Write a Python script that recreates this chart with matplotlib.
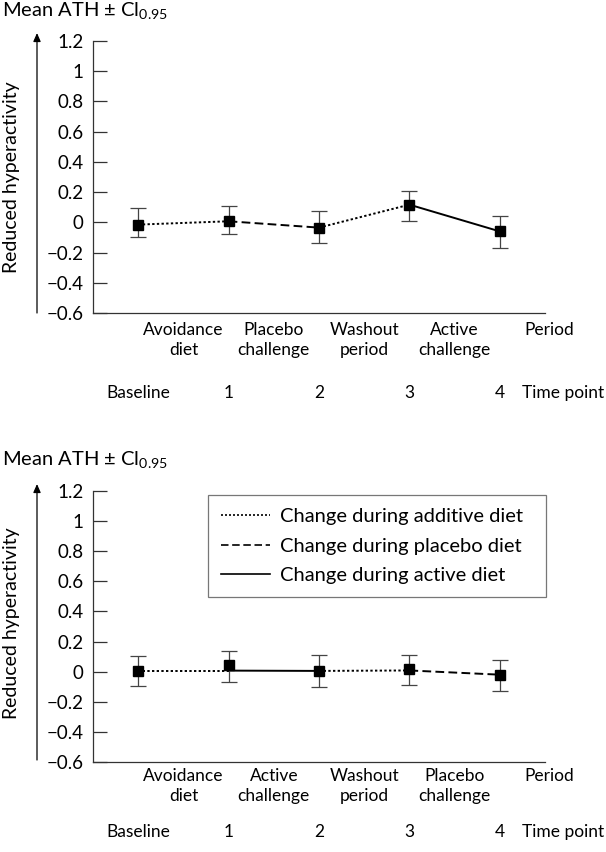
import matplotlib
matplotlib.use("Agg")
import matplotlib.pyplot as plt
from matplotlib.lines import Line2D

plt.rcParams['font.family'] = ['Lato', 'DejaVu Sans']
plt.rcParams['mathtext.fontset'] = 'custom'
plt.rcParams['mathtext.rm'] = 'Lato'
plt.rcParams['axes.unicode_minus'] = True

# ---- data ----
time_points = ["Baseline", "1", "2", "3", "4"]
top_periods = ["Avoidance\ndiet", "Placebo\nchallenge", "Washout\nperiod", "Active\nchallenge"]
bottom_periods = ["Avoidance\ndiet", "Active\nchallenge", "Washout\nperiod", "Placebo\nchallenge"]

top_mean = [-0.015, 0.007, -0.035, 0.117, -0.06]
top_ci_low = [-0.10, -0.08, -0.135, 0.01, -0.17]
top_ci_high = [0.095, 0.11, 0.073, 0.21, 0.04]
top_segments = ["additive", "placebo", "additive", "active"]
top_line = [-0.015, 0.007, -0.035, 0.117, -0.06]

bot_mean = [0.007, 0.043, 0.005, 0.015, -0.02]
bot_ci_low = [-0.096, -0.067, -0.103, -0.089, -0.127]
bot_ci_high = [0.107, 0.139, 0.112, 0.109, 0.08]
bot_segments = ["additive", "active", "additive", "placebo"]
bot_line = [0.007, 0.007, 0.005, 0.008, -0.02]

legend_labels = ["Change during additive diet", "Change during placebo diet", "Change during active diet"]
yticks = [-0.6, -0.4, -0.2, 0, 0.2, 0.4, 0.6, 0.8, 1, 1.2]

styles = {"additive": (0, (1.2, 1.2)), "placebo": (0, (4.5, 2.2)), "active": "solid"}

W, H = 606, 852
fig = plt.figure(figsize=(W / 100, H / 100), dpi=100)

FS = 12.5
TFS = 13.5


def draw_panel(ax_rect, mean, lo, hi, line_vals, segs, periods, title_y, arrow_top, arrow_bot,
               ylab_y, period_y, time_y, legend=False):
    ax = fig.add_axes(ax_rect)
    x = list(range(len(mean)))
    for i, s in enumerate(segs):
        ax.plot(x[i:i + 2], line_vals[i:i + 2], color='black', lw=1.4, linestyle=styles[s],
                solid_capstyle='butt', dash_capstyle='butt', zorder=2)
    yerr = [[m - l for m, l in zip(mean, lo)], [h - m for m, h in zip(mean, hi)]]
    ax.errorbar(x, mean, yerr=yerr, fmt='none', ecolor='#444444', elinewidth=0.9,
                capsize=6, capthick=0.9, zorder=3)
    ax.plot(x, mean, 's', color='black', ms=7.3, zorder=4, linestyle='none')
    ax.set_xlim(-0.5, 4.5)
    ax.set_ylim(-0.6, 1.2)
    ax.set_yticks(yticks)
    ax.set_yticklabels([("\u2212" + f"{abs(v):g}") if v < 0 else f"{v:g}" for v in yticks],
                       fontsize=TFS)
    ax.tick_params(axis='y', direction='in', length=10, width=0.9, pad=7, color='#333333')
    ax.set_xticks([])
    for sp in ['top', 'right']:
        ax.spines[sp].set_visible(False)
    for sp in ['left', 'bottom']:
        ax.spines[sp].set_linewidth(0.9)
        ax.spines[sp].set_color('#333333')

    for i, p in enumerate(periods):
        ax.annotate(p, xy=(i + 0.5, H - period_y), xycoords=('data', 'figure pixels'),
                    ha='center', va='center', fontsize=FS, linespacing=1.25)
    ax.annotate("Period", xy=(4.55, H - period_y + 10), xycoords=('data', 'figure pixels'),
                ha='center', va='center', fontsize=FS)
    for i, t in enumerate(time_points):
        ax.annotate(t, xy=(i, H - time_y), xycoords=('data', 'figure pixels'),
                    ha='center', va='center', fontsize=FS)
    ax.annotate("Time point", xy=(4.25, H - time_y), xycoords=('data', 'figure pixels'),
                ha='left', va='center', fontsize=FS)

    fig.text(2 / W, 1 - title_y / H, r"Mean ATH ± Cl$_{\mathregular{0.95}}$", fontsize=14.5,
             ha='left', va='baseline')
    fig.add_artist(matplotlib.patches.FancyArrowPatch(
        (37 / W, 1 - arrow_bot / H), (37 / W, 1 - arrow_top / H), transform=fig.transFigure,
        arrowstyle='-|>,head_length=5,head_width=2.2', color='black', lw=0.9,
        shrinkA=0, shrinkB=0))
    fig.text(12 / W, 1 - ylab_y / H, "Reduced hyperactivity", rotation=90, fontsize=14,
             ha='center', va='center')

    if legend:
        handles = [Line2D([], [], color='black', lw=1.2, linestyle=styles[s])
                   for s in ["additive", "placebo", "active"]]
        leg = ax.legend(handles, legend_labels, loc='upper left',
                        bbox_to_anchor=(208 / W, 1 - 495 / H, (546 - 208) / W, 0),
                        bbox_transform=fig.transFigure, mode='expand',
                        fontsize=14.5, frameon=True, fancybox=False, handlelength=2.45,
                        handletextpad=0.5, borderpad=0.65, labelspacing=0.62,
                        borderaxespad=0)
        leg.get_frame().set_edgecolor('#555555')
        leg.get_frame().set_linewidth(0.9)
    return ax


left = 93 / W
width = (545 - 93) / W
draw_panel([left, 1 - 313 / H, width, (313 - 41) / H], top_mean, top_ci_low, top_ci_high,
           top_line, top_segments, top_periods, title_y=17, arrow_top=33, arrow_bot=313,
           ylab_y=177, period_y=340, time_y=393)
draw_panel([left, 1 - 762 / H, width, (762 - 491) / H], bot_mean, bot_ci_low, bot_ci_high,
           bot_line, bot_segments, bottom_periods, title_y=466, arrow_top=484, arrow_bot=760,
           ylab_y=623, period_y=786, time_y=832, legend=True)

fig.savefig("out.png", dpi=100)
